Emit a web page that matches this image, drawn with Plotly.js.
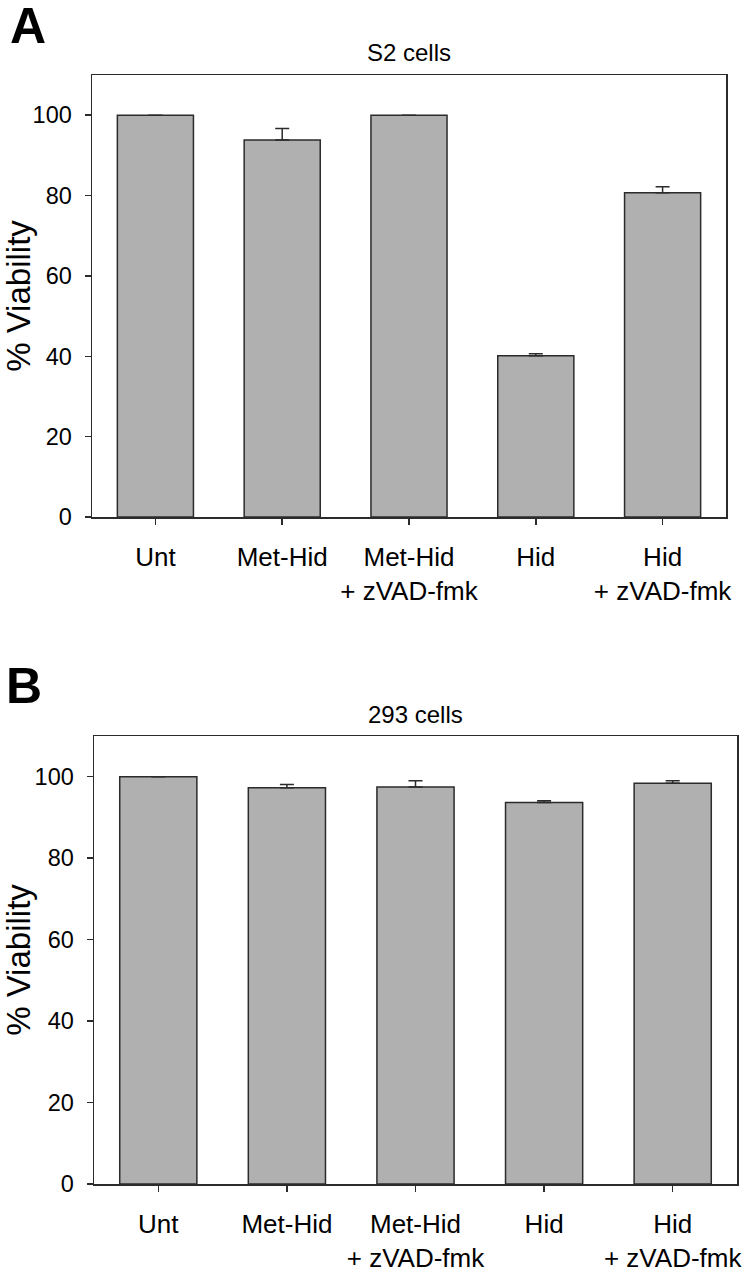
<!DOCTYPE html>
<html>
<head>
<meta charset="utf-8">
<script src="https://cdn.plot.ly/plotly-3.0.1.min.js"></script>
<style>
html,body{margin:0;padding:0;background:#fff;}
#chart{width:746px;height:1273px;}
</style>
</head>
<body>
<div id="chart"></div>
<script>
var categories = ["Unt", "Met-Hid", "Met-Hid<br>+ zVAD-fmk", "Hid", "Hid<br>+ zVAD-fmk"];
var s2Viability = [100, 93.8, 100, 40.1, 80.7];
var s2Error = [0, 2.9, 0, 0.5, 1.5];
var c293Viability = [100, 97.3, 97.5, 93.7, 98.4];
var c293Error = [0, 0.8, 1.5, 0.4, 0.6];
var yTicks = [0, 20, 40, 60, 80, 100];
var panelTitles = ["S2 cells", "293 cells"];
var panelLetters = ["A", "B"];

var font = "Liberation Sans, Arial, sans-serif";
var barColor = "#b0b0b0";
var lineColor = "#2b2b2b";

function barTrace(y, err, xa, ya) {
  return {
    type: "bar",
    x: categories,
    y: y,
    xaxis: xa,
    yaxis: ya,
    width: 0.6,
    marker: {color: barColor, line: {color: lineColor, width: 1.5}},
    error_y: {type: "data", array: err, arrayminus: err.map(function(){return 0;}), symmetric: false,
              color: lineColor, thickness: 1.5, width: 7, visible: true},
    hoverinfo: "x+y",
    showlegend: false
  };
}

var data = [
  barTrace(s2Viability, s2Error, "x", "y"),
  barTrace(c293Viability, c293Error, "x2", "y2")
];

function xAxis(domain, anchor) {
  return {
    domain: domain, anchor: anchor,
    type: "category",
    range: [-0.5, 4.5],
    showline: true, mirror: true, linecolor: lineColor, linewidth: 1.5,
    ticks: "outside", ticklen: 6, tickwidth: 1.5, tickcolor: lineColor,
    ticklabelstandoff: 10,
    tickfont: {family: font, size: 26, color: "#000"},
    showgrid: false, zeroline: false, fixedrange: true, automargin: false
  };
}
function yAxis(domain, anchor) {
  return {
    domain: domain, anchor: anchor,
    range: [0, 110],
    tickvals: yTicks, ticktext: yTicks.map(String),
    showline: true, mirror: true, linecolor: lineColor, linewidth: 1.5,
    ticks: "outside", ticklen: 6, tickwidth: 1.5, tickcolor: lineColor,
    ticklabelstandoff: 8,
    tickfont: {family: font, size: 23.5, color: "#000"},
    title: {text: "% Viability", font: {family: font, size: 33, color: "#000"}, standoff: 2},
    showgrid: false, zeroline: false, fixedrange: true, automargin: false
  };
}

var layout = {
  width: 746, height: 1273,
  margin: {l: 0, r: 0, t: 0, b: 0},
  paper_bgcolor: "#fff", plot_bgcolor: "#fff",
  xaxis: xAxis([92/746, 726/746], "y"),
  yaxis: yAxis([1 - 517/1273, 1 - 75/1273], "x"),
  xaxis2: xAxis([94/746, 737/746], "y2"),
  yaxis2: yAxis([1 - 1184/1273, 1 - 736/1273], "x2"),
  bargap: 0.4,
  annotations: [
    {text: panelTitles[0], xref: "x domain", yref: "paper", x: 0.5, y: 1 - 52/1273, xanchor: "center", yanchor: "middle",
     showarrow: false, font: {family: font, size: 24, color: "#000"}},
    {text: panelTitles[1], xref: "x2 domain", yref: "paper", x: 0.5, y: 1 - 714/1273, xanchor: "center", yanchor: "middle",
     showarrow: false, font: {family: font, size: 24, color: "#000"}},
    {text: "<b>" + panelLetters[0] + "</b>", xref: "paper", yref: "paper", x: 8/746, y: 1 - 26/1273, xanchor: "left", yanchor: "middle",
     showarrow: false, font: {family: font, size: 50, color: "#000"}},
    {text: "<b>" + panelLetters[1] + "</b>", xref: "paper", yref: "paper", x: 4/746, y: 1 - 686/1273, xanchor: "left", yanchor: "middle",
     showarrow: false, font: {family: font, size: 50, color: "#000"}}
  ]
};

Plotly.newPlot("chart", data, layout, {displayModeBar: false, staticPlot: true});
</script>
</body>
</html>
